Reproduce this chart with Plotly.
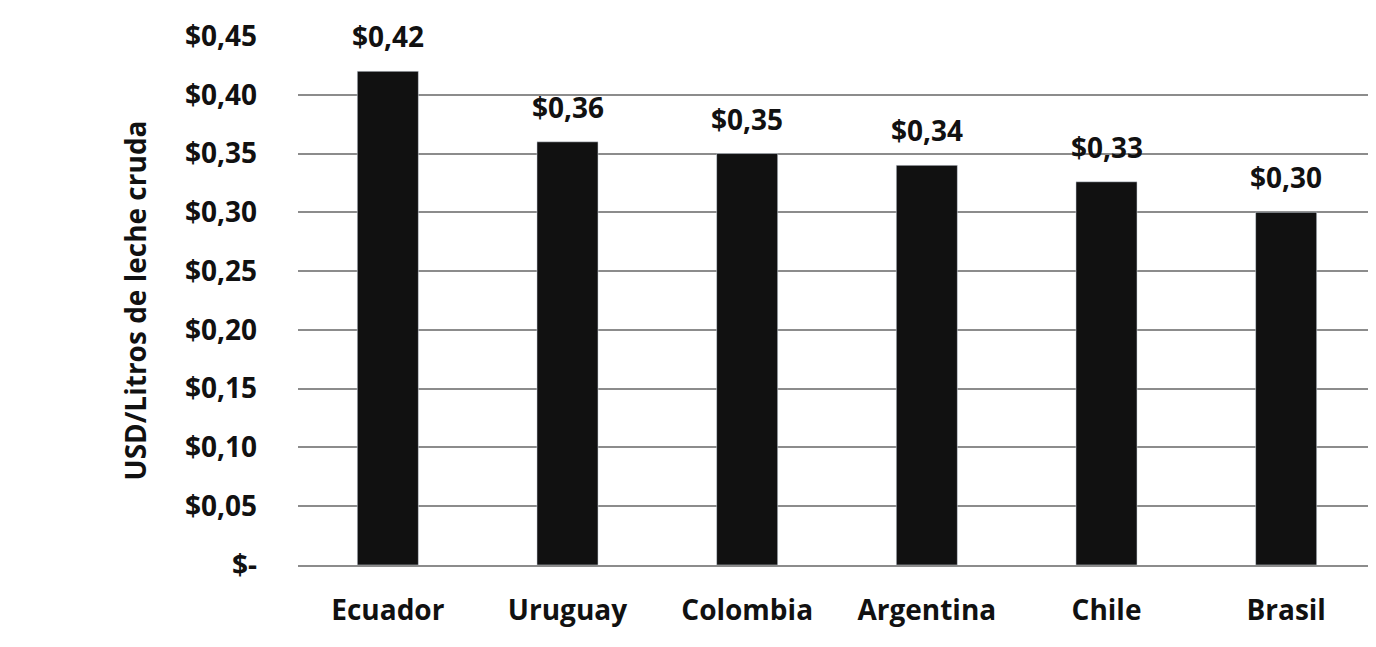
import plotly.graph_objects as go

countries = ["Ecuador", "Uruguay", "Colombia", "Argentina", "Chile", "Brasil"]
prices = [0.42, 0.36, 0.35, 0.34, 0.326, 0.30]
price_labels = ["$0,42", "$0,36", "$0,35", "$0,34", "$0,33", "$0,30"]
tick_vals = [0, 0.05, 0.10, 0.15, 0.20, 0.25, 0.30, 0.35, 0.40, 0.45]
tick_text = ["$-", "$0,05", "$0,10", "$0,15", "$0,20", "$0,25", "$0,30", "$0,35", "$0,40", "$0,45"]

font = dict(family="Open Sans", size=28, color="#111111", weight="bold")

fig = go.Figure(go.Bar(
    x=countries, y=prices, marker_color="#111111", width=0.34,
))

# value labels sit well above the bars
for c, p, lab in zip(countries, prices, price_labels):
    fig.add_annotation(x=c, y=p, text=lab, showarrow=False, yanchor="bottom",
                       yshift=14, font=font)

fig.update_layout(
    width=1376, height=647,
    margin=dict(l=290, r=8, t=26, b=90),
    paper_bgcolor="white", plot_bgcolor="white",
    font=font, showlegend=False,
)
fig.update_yaxes(
    range=[0, 0.45], tickvals=tick_vals, ticktext=tick_text,
    showgrid=True, gridcolor="#8c8c8c", gridwidth=1.5, zeroline=False,
    ticks="", ticklabelstandoff=40,
    title=dict(text="USD/Litros de leche cruda", font=font, standoff=30),
)
fig.update_xaxes(showline=True, linecolor="#8c8c8c", linewidth=1.5, ticks="",
                 ticklabelstandoff=20)

fig.write_html("out.html")
